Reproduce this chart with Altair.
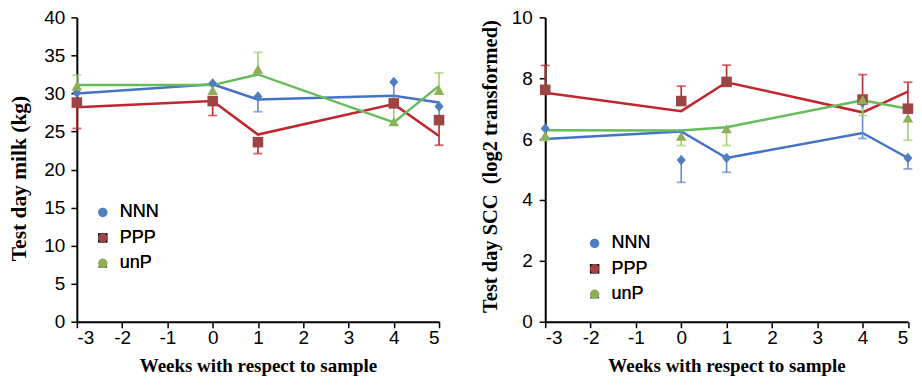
import altair as alt
import pandas as pd

weeks = [-3, 0, 1, 4, 5]
groups = ["NNN", "PPP", "unP"]

# Test day milk (kg): marker values, fitted line values, error-bar end values
milk_pts = {
    "NNN": [30.1, 31.3, 29.6, 31.5, 28.3],
    "PPP": [28.8, 29.0, 23.6, 28.7, 26.5],
    "unP": [31.0, 30.4, 33.2, 26.3, 30.4],
}
milk_line = {
    "NNN": [30.0, 31.2, 29.2, 29.7, 28.8],
    "PPP": [28.2, 29.0, 24.6, 28.6, 24.4],
    "unP": [31.1, 31.1, 32.5, 26.2, 31.0],
}
milk_err = {
    "NNN": [None, None, 27.6, 29.0, 27.0],
    "PPP": [25.4, 27.1, 22.1, None, 23.2],
    "unP": [32.4, 31.3, 35.4, 28.4, 32.7],
}

# Test day SCC (log2 transformed)
scc_pts = {
    "NNN": [6.35, 5.31, 5.38, 7.2, 5.38],
    "PPP": [7.62, 7.25, 7.88, 7.30, 7.0],
    "unP": [6.12, 6.1, 6.34, 7.3, 6.7],
}
scc_line = {
    "NNN": [6.0, 6.25, 5.38, 6.2, 5.38],
    "PPP": [7.52, 6.92, 7.87, 6.88, 7.56],
    "unP": [6.29, 6.28, 6.39, 7.28, 7.0],
}
scc_err = {
    "NNN": [None, 4.58, 4.91, 6.02, 5.02],
    "PPP": [8.42, 7.74, 8.43, 8.12, 7.87],
    "unP": [5.95, 5.79, 5.79, 6.78, 5.96],
}

x_ticks = list(range(-3, 6))
marker_colors = ["#4F7EC0", "#9E4444", "#8DAF55"]
line_colors = ["#4472C4", "#C0262D", "#66BB5A"]
err_colors = ["#5F8BD2", "#C0262D", "#A0D06A"]
shapes = ["M0,-1L0.85,0L0,1L-0.85,0Z", "square", "triangle-up"]


def make_df(pts, line, err):
    rows = []
    for g in groups:
        for i, w in enumerate(weeks):
            rows.append({"week": w, "group": g, "value": pts[g][i],
                         "line": line[g][i], "err": err[g][i]})
    return pd.DataFrame(rows)


def panel(pts, line, err, ymax, ystep, ytitle, width, ytp, ylp, ytfs, yty, lx, ly):
    df = make_df(pts, line, err)
    base = alt.Chart(df)
    x = alt.X("week:Q", scale=alt.Scale(domain=[-3, 5], nice=False, zero=False),
              axis=alt.Axis(values=x_ticks, title="Weeks with respect to sample",
                            labelExpr="datum.value < 0 ? '-' + abs(datum.value) : '' + datum.value",
                            titlePadding=9, labelPadding=1, titleFontSize=19))
    ysc = alt.Scale(domain=[0, ymax], nice=False)
    yax = alt.Axis(values=list(range(0, ymax + 1, ystep)), title=ytitle,
                   titlePadding=ytp, labelPadding=ylp, titleFontSize=ytfs, titleY=yty)
    lines = base.mark_line(strokeWidth=2.5).encode(
        x=x,
        y=alt.Y("line:Q", scale=ysc, axis=yax),
        color=alt.Color("group:N", scale=alt.Scale(domain=groups, range=line_colors), legend=None),
    )
    valid = base.transform_filter("isValid(datum.err)")
    rules = valid.mark_rule(strokeWidth=1.6).encode(
        x=x,
        y=alt.Y("value:Q", scale=ysc, axis=yax),
        y2="err:Q",
        color=alt.Color("group:N", scale=alt.Scale(domain=groups, range=err_colors), legend=None),
    )
    caps = valid.mark_tick(orient="horizontal", size=9, thickness=1.8).encode(
        x=x,
        y=alt.Y("err:Q", scale=ysc, axis=yax),
        color=alt.Color("group:N", scale=alt.Scale(domain=groups, range=err_colors), legend=None),
    )
    leg = alt.Legend(title=None, orient="none", legendX=lx, legendY=ly,
                     labelFont="Liberation Sans", labelFontSize=18, labelColor="black",
                     symbolSize=90, rowPadding=7.5, padding=0, labelOffset=8)
    points = base.mark_point(filled=True, opacity=1, size=112).encode(
        x=x,
        y=alt.Y("value:Q", scale=ysc, axis=yax),
        color=alt.Color("group:N", scale=alt.Scale(domain=groups, range=marker_colors), legend=leg),
        shape=alt.Shape("group:N", scale=alt.Scale(domain=groups, range=shapes), legend=leg),
    )
    return alt.layer(lines, rules, caps, points).resolve_scale(
        color="independent"
    ).properties(width=width, height=305)


left = panel(milk_pts, milk_line, milk_err, 40, 5, "Test day milk (kg)", 363,
             13.4, 6, 21.5, 161, 17, 186.5)
right = panel(scc_pts, scc_line, scc_err, 10, 2, "Test day SCC\u00a0 (log2 transformed)",
              363.5, 10.6, 7, 20.5, 149, 40.5, 217.5)

chart = alt.hconcat(left, right, spacing=35.4).resolve_scale(
    color="independent", shape="independent"
).resolve_legend(color="independent", shape="independent").properties(
    padding={"left": 0, "top": 0, "right": 0, "bottom": 0}
).configure_view(stroke=None).configure_axis(
    grid=False, domainColor="black", domainWidth=2, tickColor="black", tickWidth=1.5,
    tickSize=6, labelFont="Liberation Sans", labelFontSize=19, labelColor="black",
    titleFont="Liberation Serif", titleFontWeight="bold", titleColor="black",
)

chart.save("out.html", embed_options={"renderer": "svg", "actions": False})
